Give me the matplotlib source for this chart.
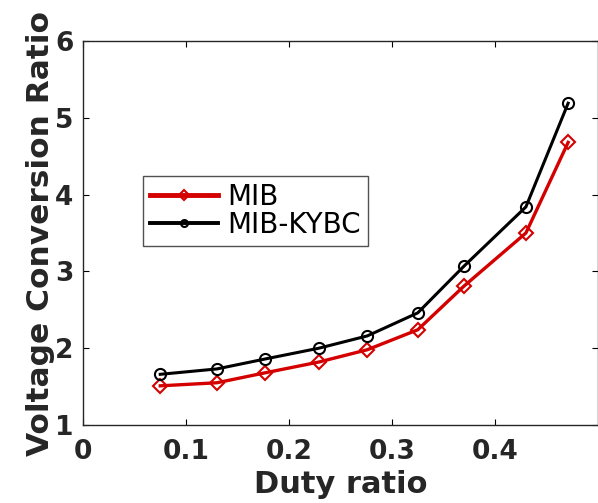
import matplotlib
matplotlib.use("Agg")
import matplotlib.pyplot as plt

# Data
duty = [0.075, 0.13, 0.177, 0.229, 0.276, 0.325, 0.370, 0.430, 0.471]
mib = [1.51, 1.55, 1.68, 1.82, 1.98, 2.24, 2.81, 3.50, 4.68]
mib_kybc = [1.66, 1.73, 1.86, 2.00, 2.16, 2.46, 3.07, 3.84, 5.19]

xticks = [0, 0.1, 0.2, 0.3, 0.4]
yticks = [1, 2, 3, 4, 5, 6]

fig = plt.figure(figsize=(5.98, 5.03), dpi=100)
ax = fig.add_axes([83 / 598, 78 / 503, 515 / 598, 384 / 503])

ax.plot(duty, mib, color="#d40000", linewidth=2.4, marker="D", markersize=7,
        markerfacecolor="none", markeredgecolor="#d40000", markeredgewidth=1.5,
        label="MIB")
ax.plot(duty, mib_kybc, color="black", linewidth=2.2, marker="o", markersize=8,
        markerfacecolor="none", markeredgecolor="black", markeredgewidth=1.5,
        label="MIB-KYBC")

ax.set_xlim(0, 0.5)
ax.set_ylim(1, 6)
ax.set_xticks(xticks)
ax.set_yticks(yticks)
ax.set_xticklabels(["0", "0.1", "0.2", "0.3", "0.4"])
ax.tick_params(direction="in", top=True, right=True, length=4, width=0.8,
               labelsize=19)
ax.tick_params(axis="x", pad=10)
ax.tick_params(axis="y", pad=7)
for lbl in ax.get_xticklabels() + ax.get_yticklabels():
    lbl.set_fontweight("bold")
    lbl.set_color("#262626")

for s in ax.spines.values():
    s.set_linewidth(1.0)
    s.set_color("#262626")

ax.set_xlabel("Duty ratio", fontsize=22, fontweight="bold", color="#262626",
              labelpad=4)
ax.set_ylabel("Voltage Conversion Ratio", fontsize=22.5, fontweight="bold",
              color="#262626", labelpad=0)

leg = ax.legend(loc="upper left", bbox_to_anchor=(0.1165, 0.648), fontsize=20,
                frameon=True, fancybox=False, edgecolor="#262626",
                handlelength=2.45, handletextpad=0.35, borderpad=0.25,
                labelspacing=0.0, borderaxespad=0)
leg.get_frame().set_linewidth(1.0)
for h in leg.legend_handles:
    h.set_markersize(5)
leg.legend_handles[0].set_linewidth(3.5)
leg.legend_handles[1].set_linewidth(2.8)

fig.savefig("out.png", dpi=100)
